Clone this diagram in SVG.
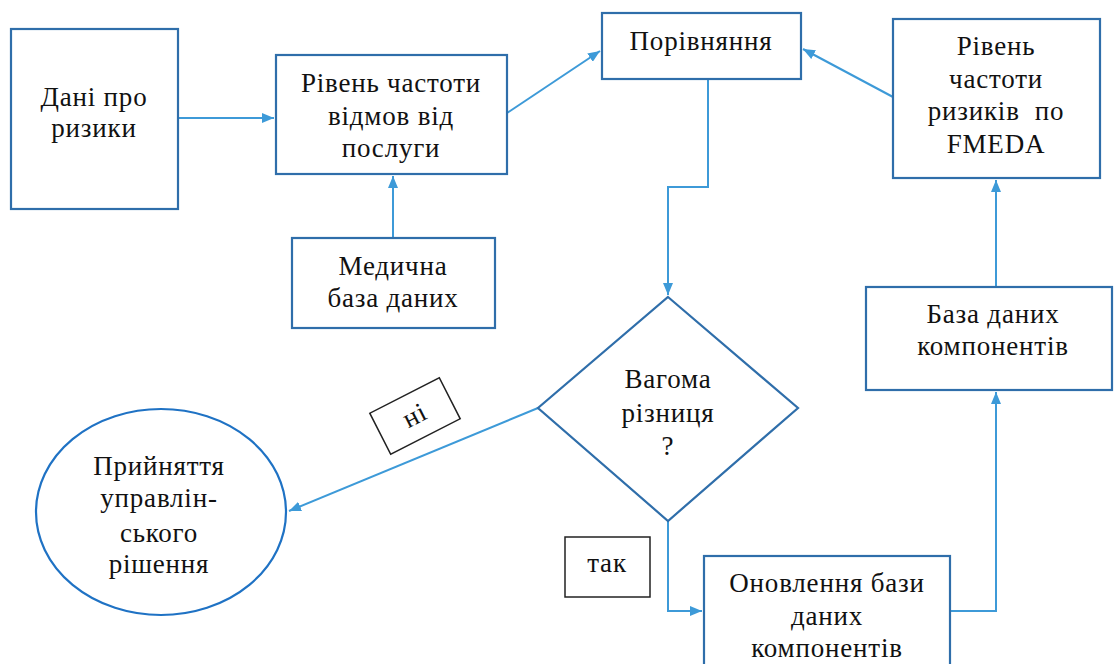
<svg xmlns="http://www.w3.org/2000/svg" width="1114" height="664" viewBox="0 0 1114 664">
<defs>
<style>
.box{fill:#fff;stroke:#2f6eaa;stroke-width:2.2}
.lbl{fill:#fff;stroke:#222;stroke-width:1.5}
.con{fill:none;stroke:#3d9ad8;stroke-width:2}
.t{fill:#111;text-anchor:middle;letter-spacing:0.8px}
</style>
<marker id="ah" viewBox="0 0 12 10" refX="12" refY="5" markerWidth="12" markerHeight="10" markerUnits="userSpaceOnUse" orient="auto">
<path d="M0,0 L12,5 L0,10 z" fill="#3d9ad8"/>
</marker>
</defs>
<rect width="1114" height="664" fill="#fff"/>
<g id="connectors">
<line class="con" x1="178" y1="118" x2="274" y2="118" marker-end="url(#ah)"/>
<line class="con" x1="393" y1="238" x2="393" y2="176" marker-end="url(#ah)"/>
<line class="con" x1="507" y1="113" x2="600" y2="51" marker-end="url(#ah)"/>
<line class="con" x1="893" y1="97" x2="803" y2="49" marker-end="url(#ah)"/>
<polyline class="con" points="708,79 708,187 668,187 668,295" marker-end="url(#ah)"/>
<line class="con" x1="996" y1="287" x2="996" y2="180" marker-end="url(#ah)"/>
<line class="con" x1="538" y1="408" x2="289" y2="511" marker-end="url(#ah)"/>
<polyline class="con" points="668,521 668,611 702,611" marker-end="url(#ah)"/>
<polyline class="con" points="950,611 996,611 996,392" marker-end="url(#ah)"/>
</g>
<g font-family="Liberation Serif, Times New Roman, serif" font-size="27">
<g id="risk-data">
<rect class="box" x="11" y="29" width="167" height="180"/>
<text class="t" x="94" y="106">Дані про</text>
<text class="t" x="94" y="137">ризики</text>
</g>
<g id="failure-rate">
<rect class="box" x="276" y="55" width="231" height="119"/>
<text class="t" x="391" y="92">Рівень частоти</text>
<text class="t" x="391" y="125">відмов від</text>
<text class="t" x="391" y="157">послуги</text>
</g>
<g id="medical-db">
<rect class="box" x="292" y="238" width="203" height="90"/>
<text class="t" x="393" y="275">Медична</text>
<text class="t" x="393" y="307">база даних</text>
</g>
<g id="comparison">
<rect class="box" x="602" y="13" width="199" height="66"/>
<text class="t" x="701" y="50">Порівняння</text>
</g>
<g id="fmeda">
<rect class="box" x="893" y="19" width="207" height="159"/>
<text class="t" x="996" y="55">Рівень</text>
<text class="t" x="996" y="88">частоти</text>
<text class="t" x="996" y="120" xml:space="preserve">ризиків  по</text>
<text class="t" x="996" y="153">FMEDA</text>
</g>
<g id="components-db">
<rect class="box" x="866" y="287" width="246" height="103"/>
<text class="t" x="993" y="323">База даних</text>
<text class="t" x="993" y="355">компонентів</text>
</g>
<g id="decision">
<polygon class="box" points="668,297 798,408 668,521 538,408"/>
<text class="t" x="668" y="388">Вагома</text>
<text class="t" x="668" y="422">різниця</text>
<text class="t" x="668" y="455">?</text>
</g>
<g id="management-decision">
<ellipse cx="161" cy="512" rx="125" ry="103" fill="#fff" stroke="#1f72c4" stroke-width="2.2"/>
<text class="t" x="159" y="475">Прийняття</text>
<text class="t" x="159" y="507">управлін-</text>
<text class="t" x="159" y="542">ського</text>
<text class="t" x="159" y="573">рішення</text>
</g>
<g id="label-no">
<g transform="translate(415,416) rotate(-27)">
<rect class="lbl" x="-39" y="-23" width="78" height="46"/>
<text class="t" x="0" y="8">ні</text>
</g>
</g>
<g id="label-yes">
<rect class="lbl" x="565" y="537" width="85" height="60"/>
<text class="t" x="607" y="572">так</text>
</g>
<g id="update-db">
<rect class="box" x="704" y="556" width="246" height="124"/>
<text class="t" x="827" y="592">Оновлення бази</text>
<text class="t" x="827" y="625">даних</text>
<text class="t" x="827" y="657">компонентів</text>
</g>
</g>
</svg>
